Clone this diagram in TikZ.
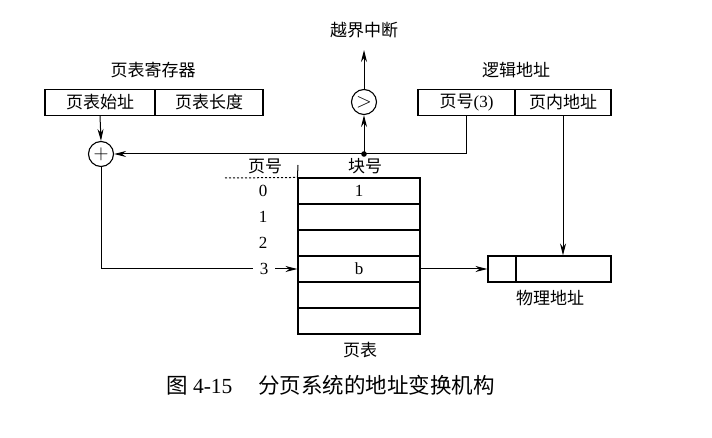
\documentclass[tikz,border=0pt]{standalone}
\usepackage{fontspec}
\setmainfont{Liberation Serif}
\newfontfamily\cjk{Noto Sans CJK SC}
\usetikzlibrary{arrows.meta}
\begin{document}
\begin{tikzpicture}[x=1pt,y=-1pt,
  cell/.style={draw,line width=1.1pt,minimum height=26pt,inner sep=0pt,font=\fontsize{17}{19}\selectfont},
  lbl/.style={inner sep=0pt,font=\fontsize{17}{19}\selectfont},
  circ/.style={draw,circle,line width=1.1pt,minimum size=25pt,inner sep=0pt,font=\fontsize{22}{24}\selectfont},
  conn/.style={line width=1pt},
  arr/.style={conn,-{Stealth[length=12pt,width=6pt]}}]
\useasboundingbox (0,0) rectangle (712,438);
% page table register
\node[lbl] (regl) at (153,70) {\cjk 页表寄存器};
\node[cell,minimum width=110pt] (reg1) at (100,102.5) {\cjk 页表始址};
\node[cell,minimum width=108pt] (reg2) at (209,102.5) {\cjk 页表长度};
% logical address
\node[lbl] (lal) at (516,70) {\cjk 逻辑地址};
\node[cell,minimum width=97pt] (la1) at (466.5,102.5) {{\cjk 页号}(3)};
\node[cell,minimum width=96pt] (la2) at (563,102.5) {\cjk 页内地址};
% circles
\node[circ] (plus) at (101,154) {$+$};
\node[circ] (cmp) at (364,102) {$>$};
\node[lbl] (oob) at (364,30) {\cjk 越界中断};
\coordinate (top) at (364,50);
\coordinate (dot) at (364,154);
\fill (dot) circle (2.8pt);
% page table
\foreach \i in {0,...,5} {
  \node[cell,minimum width=122pt] (row\i) at (359,{191+26*\i}) {};
}
\node[lbl] at (row0) {1};
\node[lbl] at (row3) {b};
\node[lbl] (pth) at (265,166) {\cjk 页号};
\node[lbl] (bh) at (365,166) {\cjk 块号};
\node[lbl] (pt) at (360,350) {\cjk 页表};
\node[lbl] (n0) at (263,191) {0};
\node[lbl] (n1) at (263,217) {1};
\node[lbl] (n2) at (263,243) {2};
\node[lbl,minimum width=22pt] (n3) at (264,269) {3};
\coordinate (dashl) at (225,178);
\coordinate (vtop) at (298,165);
\draw[conn,dash pattern=on 2pt off 2pt] (dashl) -- (row0.north west);
\draw[conn] (row0.north west) -- (vtop);
% physical address
\node[cell,minimum width=28pt] (pa1) at (502,269) {};
\node[cell,minimum width=95pt] (pa2) at (563.5,269) {};
\node[lbl] (pal) at (550,298) {\cjk 物理地址};
% connectors
\draw[arr] (reg1.south) -- (plus.north);
\draw[arr] (la1.south) -- (la1.south |- dot) -- (plus.east);
\draw[arr] (dot) -- (cmp.south);
\draw[arr] (cmp.north) -- (top);
\draw[arr] (la2.south) -- (la2.south |- pa2.north);
\draw[conn] (plus.south) |- (n3.west);
\draw[arr] (n3.east) -- (row3.west);
\draw[arr] (row3.east) -- (pa1.west);
% caption
\node[anchor=west,inner sep=0pt,font=\fontsize{21.5}{24}\selectfont] (cap) at (166,385) {{\cjk 图} 4-15\hspace{1.2em}{\cjk 分页系统的地址变换机构}};
\end{tikzpicture}
\end{document}
